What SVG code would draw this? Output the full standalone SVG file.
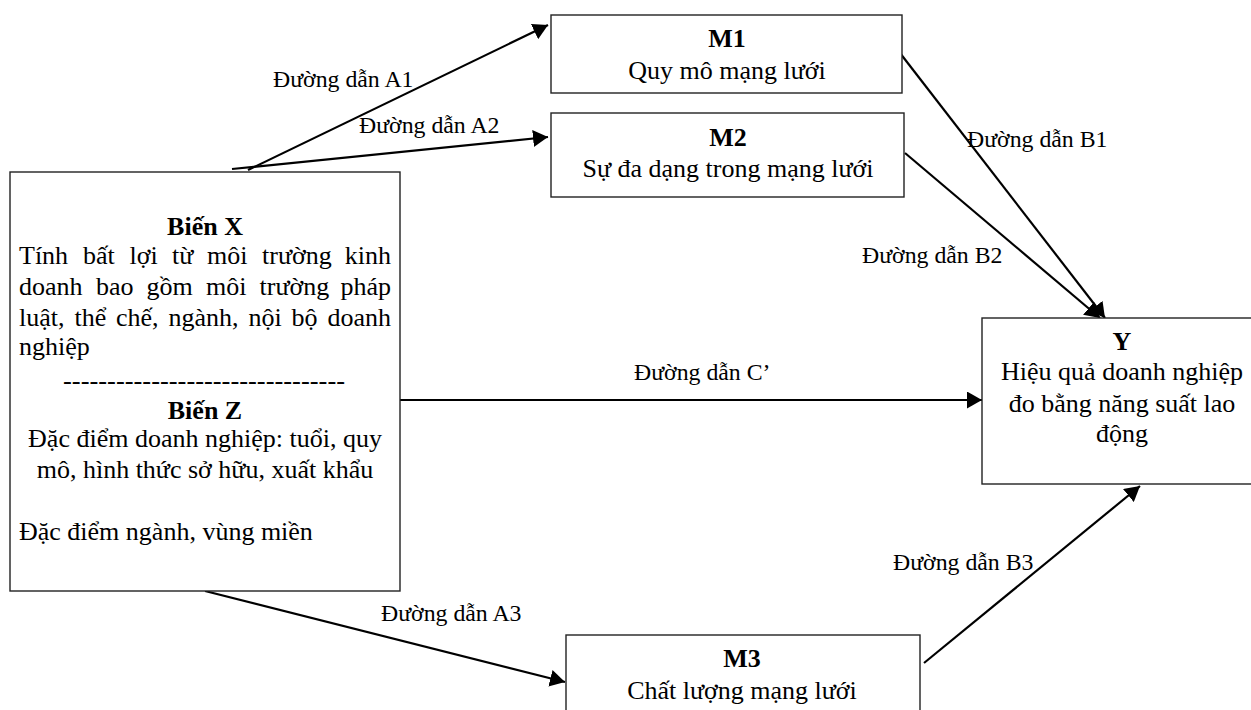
<svg xmlns="http://www.w3.org/2000/svg" width="1251" height="710" viewBox="0 0 1251 710">
<style>
.box{fill:#fff;stroke:#222;stroke-width:1.4}
.t{font-family:"Liberation Serif","Times New Roman",serif;font-size:26px;fill:#000}
.b{font-weight:bold}
.c{text-anchor:middle}
.lbl{font-family:"Liberation Serif","Times New Roman",serif;font-size:23.8px;fill:#000}
.arr{stroke:#000;stroke-width:2.2;fill:none;marker-end:url(#ah)}
</style>
<defs>
<marker id="ah" markerUnits="userSpaceOnUse" markerWidth="16" markerHeight="17" refX="15" refY="8.5" orient="auto">
<path d="M0,0 L15,8.5 L0,17 z" fill="#000"/>
</marker>
</defs>
<rect width="1251" height="710" fill="#fff"/>

<g id="connectors">
<line class="arr" x1="248" y1="170" x2="548" y2="25"/>
<line class="arr" x1="232" y1="169" x2="548" y2="137"/>
<line class="arr" x1="900" y1="53" x2="1105" y2="318"/>
<line class="arr" x1="905" y1="153" x2="1100" y2="318"/>
<line class="arr" x1="400" y1="400" x2="982" y2="400"/>
<line class="arr" x1="205" y1="591" x2="565" y2="682"/>
<line class="arr" x1="924" y1="663" x2="1140" y2="486"/>
<text class="lbl" x="273" y="87">Đường dẫn A1</text>
<text class="lbl" x="359" y="133">Đường dẫn A2</text>
<text class="lbl" x="967" y="147">Đường dẫn B1</text>
<text class="lbl" x="862" y="263">Đường dẫn B2</text>
<text class="lbl" x="634" y="380">Đường dẫn C’</text>
<text class="lbl" x="893" y="570">Đường dẫn B3</text>
<text class="lbl" x="381" y="621">Đường dẫn A3</text>
</g>

<g id="node-x">
<rect class="box" x="10" y="172" width="390" height="419"/>
<text class="t b c" x="205" y="235">Biến X</text>
<text class="t"><tspan x="19" y="264">Tính</tspan><tspan x="83">bất</tspan><tspan x="129.5">lợi</tspan><tspan x="172">từ</tspan><tspan x="207">môi</tspan><tspan x="262">trường</tspan><tspan x="391" text-anchor="end">kinh</tspan></text>
<text class="t"><tspan x="19" y="295">doanh</tspan><tspan x="96">bao</tspan><tspan x="146.5">gồm</tspan><tspan x="206">môi</tspan><tspan x="259.5">trường</tspan><tspan x="391" text-anchor="end">pháp</tspan></text>
<text class="t"><tspan x="19" y="326">luật,</tspan><tspan x="74.5">thể</tspan><tspan x="116">chế,</tspan><tspan x="168.5">ngành,</tspan><tspan x="248.5">nội</tspan><tspan x="291.5">bộ</tspan><tspan x="391" text-anchor="end">doanh</tspan></text>
<text class="t" x="19" y="355">nghiệp</text>
<text class="t" x="63" y="389" textLength="282" lengthAdjust="spacingAndGlyphs">--------------------------------</text>
<text class="t b c" x="205" y="419">Biến Z</text>
<text class="t c" x="205" y="447">Đặc điểm doanh nghiệp: tuổi, quy</text>
<text class="t c" x="205" y="478">mô, hình thức sở hữu, xuất khẩu</text>
<text class="t" x="19" y="540">Đặc điểm ngành, vùng miền</text>
</g>

<g id="node-m1">
<rect class="box" x="551" y="15" width="351" height="78"/>
<text class="t b c" x="727" y="47">M1</text>
<text class="t c" x="727" y="79">Quy mô mạng lưới</text>
</g>

<g id="node-m2">
<rect class="box" x="551" y="113" width="353" height="84"/>
<text class="t b c" x="728" y="146">M2</text>
<text class="t c" x="728" y="177">Sự đa dạng trong mạng lưới</text>
</g>

<g id="node-m3">
<rect class="box" x="566" y="635" width="354" height="90"/>
<text class="t b c" x="742" y="667">M3</text>
<text class="t c" x="742" y="699">Chất lượng mạng lưới</text>
</g>

<g id="node-y">
<rect class="box" x="982" y="318" width="280" height="166"/>
<text class="t b c" x="1122" y="350">Y</text>
<text class="t c" x="1122" y="380">Hiệu quả doanh nghiệp</text>
<text class="t c" x="1122" y="412">đo bằng năng suất lao</text>
<text class="t c" x="1122" y="442">động</text>
</g>
</svg>
